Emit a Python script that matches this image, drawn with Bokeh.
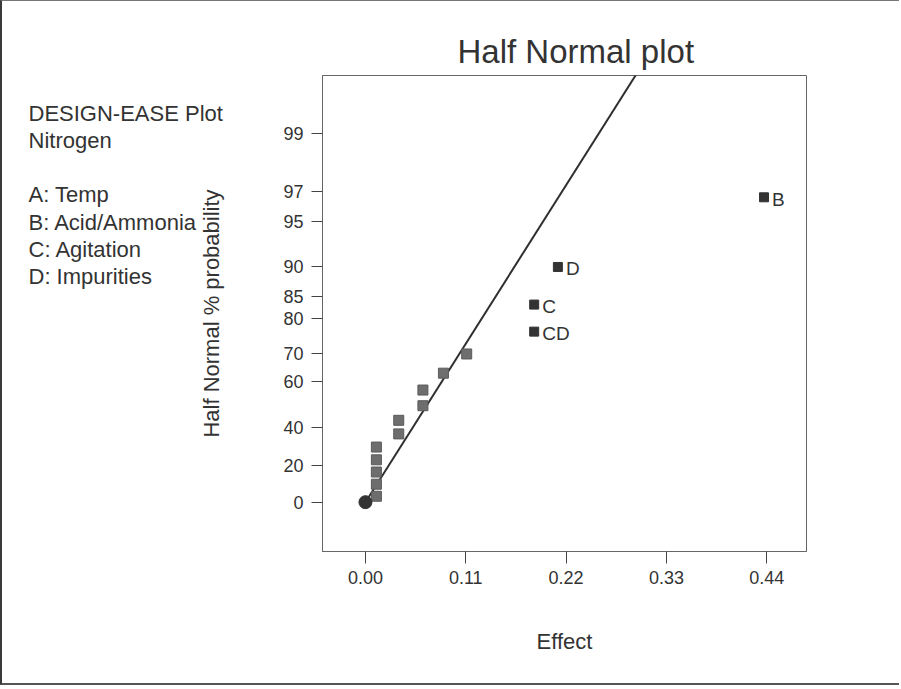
from statistics import NormalDist

from bokeh.plotting import figure
from bokeh.models import Label, FixedTicker, Range1d, NumeralTickFormatter
from bokeh.embed import file_html
from bokeh.resources import INLINE
from bokeh.core.properties import value

# ---------------- data ----------------
small_effect = [0.012, 0.012, 0.012, 0.012, 0.012, 0.0365, 0.0365, 0.063, 0.063, 0.0855, 0.111]
small_prob = [3.3, 10.0, 16.7, 23.3, 30.0, 36.7, 43.3, 50.0, 56.7, 63.3, 70.0]

named_terms = ["CD", "C", "D", "B"]
named_effect = [0.185, 0.185, 0.211, 0.437]
named_prob = [76.7, 83.3, 90.0, 96.7]

origin_effect = [0.0]
origin_prob = [0.0]

line_effect = [0.0, 0.30]
line_prob = [0.0, 99.75]

y_tick_pct = [0, 20, 40, 60, 70, 80, 85, 90, 95, 97, 99]
x_ticks = [0.00, 0.11, 0.22, 0.33, 0.44]

info_header = ["DESIGN-EASE Plot", "Nitrogen"]
info_factors = ["A: Temp", "B: Acid/Ammonia", "C: Agitation", "D: Impurities"]

# ---------------- half-normal probability scale ----------------
_nd = NormalDist()


def hn(pct):
    return _nd.inv_cdf(0.5 + pct / 200.0)


FONT = "Liberation Sans"
INK = "#333333"
W, H = 899, 685

p = figure(width=W, height=H, output_backend="svg", toolbar_location=None,
           x_range=Range1d(-0.0471, 0.4836), y_range=Range1d(-0.345, 2.984),
           min_border_left=320, min_border_right=95, min_border_top=74,
           min_border_bottom=135,
           title="Half Normal plot")

p.styles = {"border-left": "2px solid #3a3a3a", "border-top": "1px solid #777777",
            "border-bottom": "2px solid #555555"}

p.title.align = "left"
p.title.offset = 135
p.title.text_font = FONT
p.title.text_font_size = "33px"
p.title.text_font_style = "normal"
p.title.text_color = INK
p.title.standoff = 12

p.xgrid.visible = False
p.ygrid.visible = False
p.outline_line_color = "#666666"
p.outline_line_width = 1
p.background_fill_color = "white"
p.border_fill_color = "white"

# axes
for ax in (p.xaxis[0], p.yaxis[0]):
    ax.axis_line_color = "#666666"
    ax.major_tick_line_color = "#444444"
    ax.major_tick_in = 0
    ax.minor_tick_line_color = None
    ax.major_label_text_font = FONT
    ax.major_label_text_font_size = "18px"
    ax.major_label_text_color = INK
    ax.axis_label_text_font = FONT
    ax.axis_label_text_font_size = "22px"
    ax.axis_label_text_font_style = "normal"
    ax.axis_label_text_color = INK

p.xaxis.ticker = FixedTicker(ticks=x_ticks)
p.xaxis.formatter = NumeralTickFormatter(format="0.00")
p.xaxis.major_tick_out = 12
p.xaxis.major_label_standoff = 7
p.xaxis.axis_label = "Effect"
p.xaxis.axis_label_standoff = 42

p.yaxis.ticker = FixedTicker(ticks=[hn(v) for v in y_tick_pct])
p.yaxis.major_label_overrides = {hn(v): str(v) for v in y_tick_pct}
p.yaxis.major_tick_out = 11
p.yaxis.major_label_standoff = 8
p.yaxis.axis_label = "Half Normal % probability"
p.yaxis.axis_label_standoff = 56

# reference line
p.line(line_effect, [hn(v) for v in line_prob], line_color="#2f2f2f", line_width=2)

# small (unlabelled) effects
p.scatter(small_effect, [hn(v) for v in small_prob], marker="square", size=10,
          fill_color="#6e6e6e", line_color="#5a5a5a", line_width=1)

# labelled effects
named_z = [hn(v) for v in named_prob]
p.scatter(named_effect, named_z, marker="square", size=9,
          fill_color="#333333", line_color="#333333")
p.text(named_effect, named_z, text=named_terms, x_offset=8, y_offset=2,
       text_baseline="middle", text_align="left", text_font=value(FONT),
       text_font_size="19px", text_color=INK)

# origin point
p.scatter(origin_effect, [hn(v) for v in origin_prob], marker="circle", size=13,
          fill_color="#333333", line_color="#333333")

# info block on the left (placed in the left side panel so it is not clipped)
info_text = "\n".join(info_header + [""] + info_factors)
p.add_layout(Label(x=26, y=451, x_units="screen", y_units="screen",
                   text=info_text, text_font=FONT, text_font_size="22px",
                   text_line_height=1.09, text_color=INK,
                   text_baseline="top", text_align="left"), "left")

open("out.html", "w").write(file_html(p, INLINE))
